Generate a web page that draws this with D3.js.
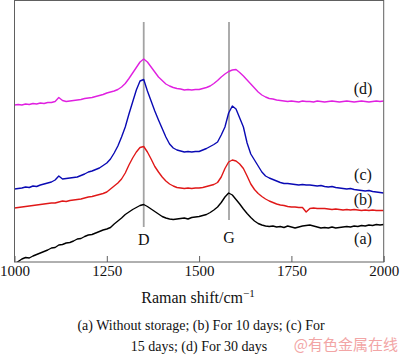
<!DOCTYPE html>
<html>
<head>
<meta charset="utf-8">
<script src="https://cdn.jsdelivr.net/npm/d3@7"></script>
<style>
  html, body { margin: 0; padding: 0; background: #fff; }
  svg { display: block; }
  text { font-family: "Liberation Serif", "Times New Roman", serif; fill: #111; }
</style>
</head>
<body>
<svg id="chart" width="400" height="356"></svg>
<script>
// Raman shift grid (cm^-1), sampled every 10 cm^-1
const shift = d3.range(1000, 2001, 10);
const xTicks = [1000, 1250, 1500, 1750, 2000];
const peakPositions = [{name: "D", pos: 1350}, {name: "G", pos: 1581}];

// Intensities (a.u., stacked/offset as in the figure)
const seriesA = [ // (a) Without storage, black
  -2, 0.5, 3, 4.5, 4, 6, 7.5, 9, 10.5, 12,
  14, 14.5, 17, 17.5, 19, 19.5, 21, 23, 23.5, 25.5,
  27, 27.5, 29, 30.5, 32, 33, 34.5, 38, 41, 44,
  47.5, 50, 52.5, 54.5, 56.5, 57.5, 55.5, 53, 50.5, 48,
  45.5, 44, 43, 42.5, 43, 43.5, 44, 43, 44.5, 45,
  45.5, 46.5, 47.5, 49.5, 52, 55, 59.5, 65, 69, 67,
  62.5, 58, 53, 48.5, 44.5, 41, 38.5, 37, 36, 35.5,
  36, 35, 35.5, 34.5, 36, 35, 34, 35, 36, 36.5,
  37, 36, 35, 34, 34.5, 34, 35, 34, 34.5, 35,
  35.5, 35, 36, 35.5, 36.5, 36, 37, 36.5, 37.5, 37,
  37.5
];
const seriesB = [ // (b) For 10 days, red
  54, 54.5, 55, 55.5, 56, 56.5, 57, 57.5, 58, 58.5,
  59, 59, 60, 61, 60.5, 61.5, 62, 62.5, 63, 64,
  65, 65.5, 66.5, 67.5, 68.5, 70, 73, 76, 79, 83,
  89, 97, 104, 110, 114.5, 115.5, 110, 103, 95.5, 90,
  85, 81, 78, 76, 74.5, 74, 73.5, 74, 73.5, 74,
  74, 74.5, 75.5, 76.5, 77.5, 79.5, 85, 93.5, 100, 102,
  101, 98, 93.5, 86, 78, 72.5, 68.5, 65.5, 63, 61,
  59.5, 58, 57, 56.5, 55.5, 55, 55, 54.5, 54.5, 50,
  53.5, 54, 53.5, 53.5, 53.5, 53, 52.5, 53, 52.5, 52,
  52.5, 52, 52.5, 52, 51.5, 52, 51.5, 52, 51.5, 51.5,
  51.5
];
const seriesC = [ // (c) For 15 days, blue
  73, 73.5, 74, 75, 74.5, 76, 75.5, 77, 78, 79,
  80, 82, 86, 83, 83.5, 84, 84.5, 85, 86.5, 88,
  90, 91, 92.5, 94, 96.5, 99, 103, 109, 116, 125,
  135, 148, 160, 172, 181, 182.5, 171, 161, 151, 142,
  133.5, 125, 118, 114, 112, 111, 110, 110.5, 110, 110.5,
  110.5, 112, 113.5, 115.5, 117.5, 120, 127, 135, 149, 156,
  153, 144, 135, 119, 108, 102, 96, 90, 86, 84,
  82.5, 81, 79.5, 78.5, 78.5, 78, 77.5, 77, 77.5, 77,
  77, 76.5, 76, 76.5, 75.5, 75, 75.5, 74.5, 74, 73.5,
  73, 73.5, 72.5, 72, 71.5, 71, 71.5, 70.5, 70, 69.5,
  69
];
const seriesD = [ // (d) For 30 days, magenta
  157, 157.5, 157, 158, 157.5, 158.5, 158, 159, 158.5, 159.5,
  159.5, 160.5, 164.5, 161.5, 160.5, 161, 161.5, 162, 162.5, 163.5,
  164, 164.5, 165.5, 166.5, 167.5, 169, 170, 171, 172.5, 175,
  178.5, 183.5, 189, 194.5, 200, 203, 200, 195, 190, 185,
  181.5, 178, 176, 174.5, 173.5, 173, 172, 172.5, 172, 172.5,
  172.5, 173.5, 174.5, 176, 178.5, 181.5, 185, 188, 190.5, 192,
  192.5, 189.5, 186, 182, 178, 174, 170, 167, 165, 163.5,
  163, 162, 161.5, 161, 160.5, 161, 160.5, 160, 161, 160.5,
  160.5, 160, 161, 160.5, 160, 160.5, 161, 160.5, 160, 160.5,
  161, 160.5, 160, 160.5, 161, 160.5, 160, 160.5, 161, 160.5,
  161
];
const seriesNames = ["(a)", "(b)", "(c)", "(d)"];
const seriesColors = ["#000000", "#e01818", "#0a0ab4", "#e020e0"];
const labelLevels = [18, 57, 82, 168]; // intensity level of each series label
const captionLines = ["(a) Without storage; (b) For 10 days; (c) For", "15 days; (d) For 30 days"];
const watermark = "@有色金属在线";

const svg = d3.select("#chart");
const L = 14.5, R = 383.7, T = 0.5, B = 262;
const x = d3.scaleLinear().domain([1000, 2000]).range([L, R]);
const y = d3.scaleLinear().domain([0, 262]).range([B, B - 262]);

svg.append("defs").append("clipPath").attr("id", "plotclip")
  .append("rect").attr("x", L).attr("y", T).attr("width", R - L).attr("height", B - T);

// D / G reference lines
const peakTop = [240, 240];
const peakBottom = [35, 42];
svg.selectAll(".peakline").data(peakPositions).enter().append("line")
  .attr("x1", d => x(d.pos)).attr("x2", d => x(d.pos))
  .attr("y1", (d, i) => y(peakTop[i])).attr("y2", (d, i) => y(peakBottom[i]))
  .attr("stroke", "#a3a3a3").attr("stroke-width", 1.8);

svg.selectAll(".peaklabel").data(peakPositions).enter().append("text")
  .attr("x", d => x(d.pos)).attr("y", (d, i) => [245, 243][i])
  .attr("text-anchor", "middle").attr("font-size", 16).text(d => d.name);

// curves
const all = [seriesA, seriesB, seriesC, seriesD];
const line = d3.line().x((d, i) => x(shift[i])).y(d => y(d));
const g = svg.append("g").attr("clip-path", "url(#plotclip)");
all.forEach((s, k) => {
  g.append("path").datum(s).attr("d", line)
    .attr("fill", "none").attr("stroke", seriesColors[k])
    .attr("stroke-width", 1.4).attr("stroke-linejoin", "round");
});

// frame
svg.append("rect").attr("x", L).attr("y", T).attr("width", R - L).attr("height", B - T)
  .attr("fill", "none").attr("stroke", "#606060").attr("stroke-width", 1);

// x axis
const axis = d3.axisBottom(x).tickValues(xTicks).tickSize(-6).tickPadding(9).tickFormat(d3.format("d"));
const ax = svg.append("g").attr("transform", `translate(0,${B})`).call(axis);
ax.select(".domain").remove();
ax.selectAll(".tick line").attr("stroke", "#606060");
ax.selectAll(".tick text").attr("font-size", 15).attr("font-family", "Liberation Serif").attr("fill", "#111")
  .attr("dy", null).attr("y", 14);

// series labels
svg.selectAll(".slab").data(seriesNames).enter().append("text")
  .attr("x", 363).attr("y", (d, i) => y(labelLevels[i]))
  .attr("text-anchor", "middle").attr("font-size", 16).text(d => d);

// x title
const xt = svg.append("text").attr("x", 198).attr("y", 303).attr("text-anchor", "middle").attr("font-size", 16);
xt.append("tspan").text("Raman shift/cm");
xt.append("tspan").attr("dy", -6).attr("font-size", 11).text("\u22121");

// caption
svg.selectAll(".cap").data(captionLines).enter().append("text")
  .attr("x", (d, i) => [201, 199][i]).attr("y", (d, i) => [330, 351][i])
  .attr("text-anchor", "middle").attr("font-size", 14).text(d => d);

// watermark
svg.append("text").attr("x", 398).attr("y", 350).attr("text-anchor", "end")
  .attr("font-family", "Noto Sans CJK SC").style("font-family", "'Noto Sans CJK SC'")
  .attr("font-size", 15).style("fill", "#f2a5a5").text(watermark);
</script>
</body>
</html>
